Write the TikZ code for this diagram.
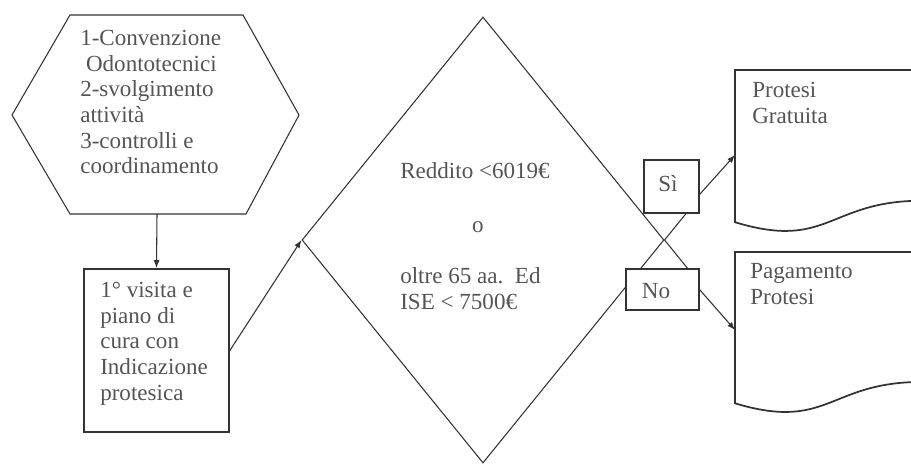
\documentclass[tikz,border=0pt]{standalone}
\usepackage{fontspec}
\setmainfont{Liberation Serif}
\usetikzlibrary{shapes.geometric,arrows.meta,calc}
\definecolor{linec}{HTML}{333333}
\definecolor{textc}{HTML}{555555}
\begin{document}
\begin{tikzpicture}[x=0.75pt,y=-0.75pt,
  line/.style={draw=linec, line width=0.8pt},
  thick line/.style={draw=linec, line width=1.3pt},
  arr/.style={line, -{Latex[length=6pt,width=4.5pt]}},
  txt/.style={anchor=north west, inner sep=0pt, align=left, text=textc,
              font=\fontsize{17.3}{19.2}\selectfont},
  box/.style={line, fill=white, inner sep=0pt}]
\useasboundingbox (0,0) rectangle (911,465);
\clip (0,0) rectangle (911,465);

% hexagon
\draw[line] (70,15) -- (243,15) -- (299,115) -- (246,214) -- (70,214) -- (12,115) -- cycle;
\coordinate (hexbot) at (157,214);
\node[txt] (hextext) at (80,27.5) {\strut 1-Convenzione\\ \ Odontotecnici\\2-svolgimento\\attività\\3-controlli e\\coordinamento};

% first visit box
\node[thick line, inner sep=0pt, minimum width=108.75pt, minimum height=122.25pt] (rect) at (156.5,350.5) {};
\node[txt] (recttext) at (100,279.5) {\strut 1° visita e\\piano di\\cura con\\Indicazione\\protesica};

% decision diamond
\node[diamond, line, inner sep=0pt, minimum width=271.5pt, minimum height=334.5pt] (diam) at (483,240) {};
\node[txt] (dtext1) at (400,160.5) {\strut Reddito <6019€};
\node[txt, anchor=center] (dtext2) at (478,227) {o};
\node[txt] (dtext3) at (400,265.5) {\strut oltre 65 aa.\ \ Ed\\ISE < 7500€};

% branches out of the diamond
\coordinate (sientry) at ($(diam.east)!-0.15!(diam.south)$);
\coordinate (noentry) at ($(diam.east)!-0.15!(diam.north)$);
\draw[line] (diam.east) -- (sientry);
\draw[line] (diam.east) -- (noentry);

% Si / No boxes
\node[box, minimum width=41.25pt, minimum height=39.75pt] (si) at (671.5,186.5) {};
\node[txt, anchor=center] (sitext) at (668,184) {Sì};
\node[box, minimum width=54.75pt, minimum height=30.75pt] (no) at (662.5,289.5) {};
\node[txt, anchor=center] (notext) at (656,291) {No};

% documents
\draw[thick line] (735,70) -- (922,70) -- (922,200.7)
  .. controls (828.5,200.7) and (828.5,250.6) .. (735,222.2) -- cycle;
\coordinate (doc1in) at (735,155);
\node[txt] (doc1text) at (752,79.5) {\strut Protesi\\Gratuita};

\draw[thick line] (735,252) -- (922,252) -- (922,381.9)
  .. controls (828.5,381.9) and (828.5,431.5) .. (735,403.3) -- cycle;
\coordinate (doc2in) at (735,330);
\node[txt] (doc2text) at (750,260.5) {\strut Pagamento\\Protesi};

% arrows
\draw[arr] (hexbot) -- (rect.north);
\draw[arr] (rect.east) -- (diam.west);
\draw[arr] ([yshift=-6pt]si.east) -- (doc1in);
\draw[arr] (no.east) -- (doc2in);
\end{tikzpicture}
\end{document}
